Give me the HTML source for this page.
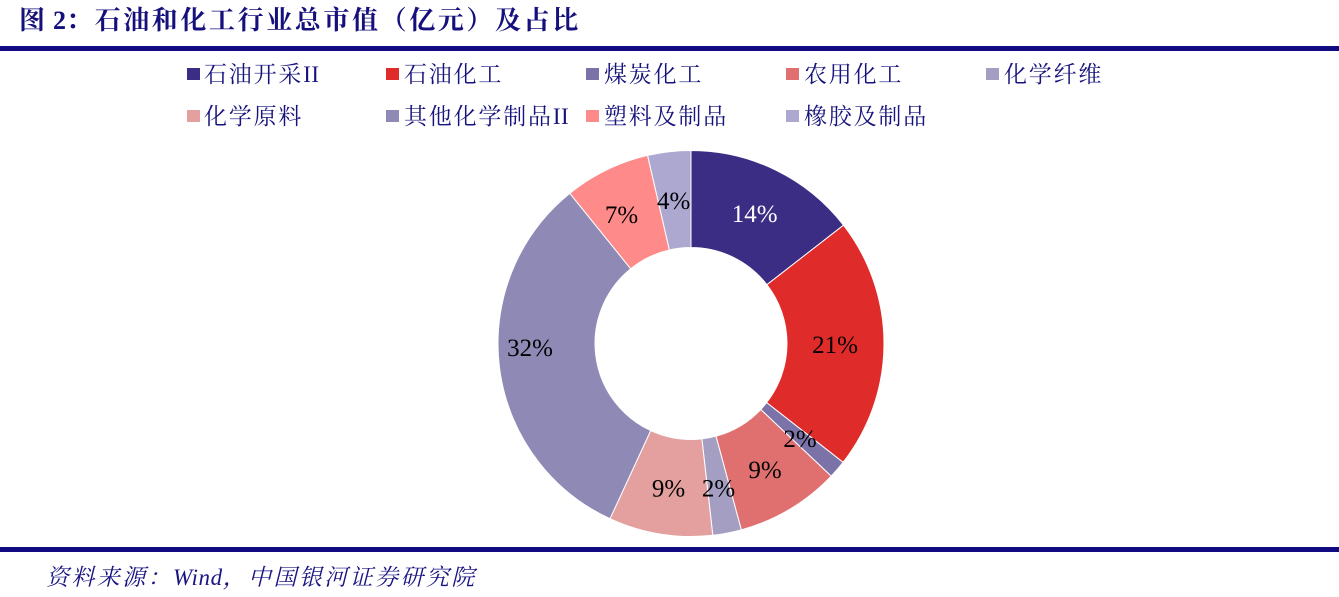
<!DOCTYPE html>
<html>
<head>
<meta charset="utf-8">
<style>
  html, body { margin:0; padding:0; }
  body { width:1339px; height:597px; background:#ffffff; position:relative; overflow:hidden; }
  .abs { position:absolute; white-space:nowrap; }
  .title { font-family:"Liberation Serif","Noto Serif CJK SC",serif; font-weight:bold; font-size:26px; line-height:26px; color:#16107d; }
  .leg { font-family:"Liberation Serif","Noto Serif CJK SC",serif; font-size:23px; line-height:23px; color:#17137c; letter-spacing:1.8px; }
  .leg .r { letter-spacing:0.5px; }
  .sw { position:absolute; width:12.5px; height:12.5px; }
  .foot { font-family:"Liberation Serif","Noto Serif CJK SC",serif; font-style:italic; font-size:23px; line-height:23px; color:#1a1582; letter-spacing:2.4px; }
  .foot .r { letter-spacing:0.6px; }
</style>
</head>
<body>
  <!-- Title -->
  <div class="abs title" style="left:19px;top:8px;">图</div>
  <div class="abs title" style="left:53px;top:8px;">2</div>
  <div class="abs title" style="left:66px;top:8px;letter-spacing:2.6px;">：石油和化工行业总市值（亿元）及占比</div>
  <div class="abs" style="left:0;top:46px;width:1339px;height:5px;background:#110a80;"></div>

  <!-- Legend row 1 -->
  <div class="sw" style="left:187px;top:67.5px;background:#3b2c84;"></div>
  <div class="abs leg" style="left:204px;top:63px;">石油开采<span class="r">II</span></div>
  <div class="sw" style="left:386px;top:67.5px;background:#e02b2b;"></div>
  <div class="abs leg" style="left:404px;top:63px;">石油化工</div>
  <div class="sw" style="left:586px;top:67.5px;background:#7b72a8;"></div>
  <div class="abs leg" style="left:604px;top:63px;">煤炭化工</div>
  <div class="sw" style="left:786px;top:67.5px;background:#e07070;"></div>
  <div class="abs leg" style="left:804px;top:63px;">农用化工</div>
  <div class="sw" style="left:986px;top:67.5px;background:#a39ec2;"></div>
  <div class="abs leg" style="left:1004px;top:63px;">化学纤维</div>

  <!-- Legend row 2 -->
  <div class="sw" style="left:187px;top:109.5px;background:#e3a09e;"></div>
  <div class="abs leg" style="left:204px;top:104.5px;">化学原料</div>
  <div class="sw" style="left:386px;top:109.5px;background:#8e89b5;"></div>
  <div class="abs leg" style="left:404px;top:104.5px;">其他化学制品<span class="r">II</span></div>
  <div class="sw" style="left:586px;top:109.5px;background:#ff8a8a;"></div>
  <div class="abs leg" style="left:604px;top:104.5px;">塑料及制品</div>
  <div class="sw" style="left:786px;top:109.5px;background:#ada8d0;"></div>
  <div class="abs leg" style="left:804px;top:104.5px;">橡胶及制品</div>

  <!-- Donut -->
  <svg class="abs" style="left:0;top:0;" width="1339" height="597" viewBox="0 0 1339 597">
    <g stroke="#ffffff" stroke-width="1" stroke-linejoin="miter">
      <path fill="#3b2c84" d="M691,150.5 A193,193 0 0 1 843.5,225.2 L766.9,284.7 A96,96 0 0 0 691,247.5 Z"/>
      <path fill="#e02b2b" d="M843.5,225.2 A193,193 0 0 1 843.1,462.3 L766.6,402.6 A96,96 0 0 0 766.9,284.7 Z"/>
      <path fill="#7b72a8" d="M843.1,462.3 A193,193 0 0 1 831.2,476.1 L760.8,409.5 A96,96 0 0 0 766.6,402.6 Z"/>
      <path fill="#e07070" d="M831.2,476.1 A193,193 0 0 1 741.3,529.8 L716.0,436.2 A96,96 0 0 0 760.8,409.5 Z"/>
      <path fill="#a39ec2" d="M741.3,529.8 A193,193 0 0 1 712.8,535.3 L701.9,438.9 A96,96 0 0 0 716.0,436.2 Z"/>
      <path fill="#e3a09e" d="M712.8,535.3 A193,193 0 0 1 610.0,518.7 L650.7,430.6 A96,96 0 0 0 701.9,438.9 Z"/>
      <path fill="#8e89b5" d="M610.0,518.7 A193,193 0 0 1 569.8,193.3 L630.7,268.8 A96,96 0 0 0 650.7,430.6 Z"/>
      <path fill="#ff8a8a" d="M569.8,193.3 A193,193 0 0 1 647.6,155.4 L669.4,250.0 A96,96 0 0 0 630.7,268.8 Z"/>
      <path fill="#ada8d0" d="M647.6,155.4 A193,193 0 0 1 691,150.5 L691,247.5 A96,96 0 0 0 669.4,250.0 Z"/>
    </g>
    <g font-family="Liberation Serif, serif" font-size="25" text-anchor="middle">
      <text x="754.7" y="222" fill="#ffffff">14%</text>
      <text x="835" y="353" fill="#000000">21%</text>
      <text x="800" y="447" fill="#000000">2%</text>
      <text x="765" y="478" fill="#000000">9%</text>
      <text x="718.5" y="496.5" fill="#000000">2%</text>
      <text x="668.5" y="496.5" fill="#000000">9%</text>
      <text x="530" y="356" fill="#000000">32%</text>
      <text x="621.5" y="223" fill="#000000">7%</text>
      <text x="673.7" y="209" fill="#000000">4%</text>
    </g>
  </svg>

  <!-- Footer -->
  <div class="abs" style="left:0;top:547px;width:1339px;height:5px;background:#110a80;"></div>
  <div class="abs foot" style="left:46px;top:565.5px;">资料来源：<span class="r">Wind</span>，中国银河证券研究院</div>
</body>
</html>
